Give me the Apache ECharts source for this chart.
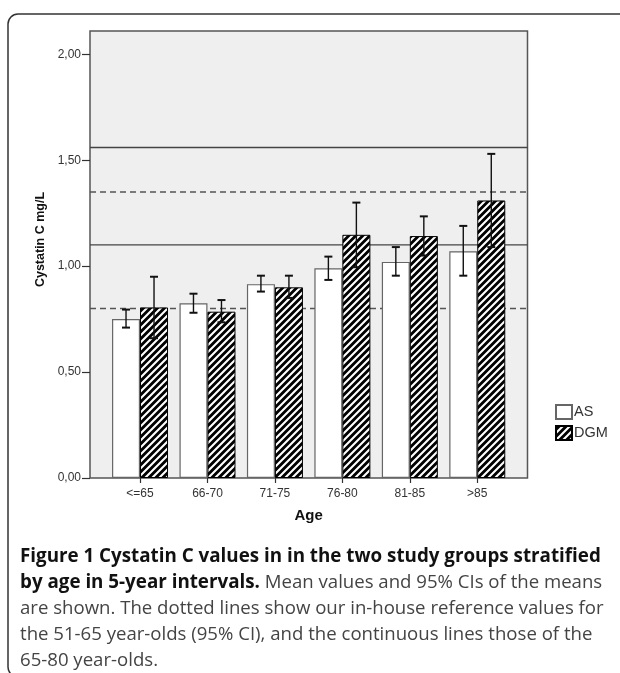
<!DOCTYPE html>
<html>
<head>
<meta charset="utf-8">
<script src="https://cdn.jsdelivr.net/npm/echarts@6/dist/echarts.min.js"></script>
<style>
html,body{margin:0;padding:0;background:#fff;}
#chart{width:620px;height:673px;}
</style>
</head>
<body>
<div id="chart"></div>
<script>
// ---- data ----
const categories = ['<=65', '66-70', '71-75', '76-80', '81-85', '>85'];
const asMean  = [0.75, 0.825, 0.915, 0.99, 1.02, 1.07];
const asLow   = [0.71, 0.78, 0.88, 0.935, 0.955, 0.955];
const asHigh  = [0.795, 0.87, 0.955, 1.045, 1.09, 1.19];
const dgmMean = [0.805, 0.785, 0.90, 1.148, 1.142, 1.31];
const dgmLow  = [0.66, 0.735, 0.85, 0.995, 1.05, 1.09];
const dgmHigh = [0.95, 0.84, 0.955, 1.30, 1.235, 1.53];
const refSolid  = [1.56, 1.10];   // 65-80 year-olds
const refDashed = [1.35, 0.80];   // 51-65 year-olds
const yTicks = [0, 0.5, 1, 1.5, 2];
const yMax = 2.11;
const captionLines = [
  [{b: 'Figure 1 Cystatin C values in in the two study groups stratified'}],
  [{b: 'by age in 5-year intervals.'}, {r: ' Mean values and 95% CIs of the means'}],
  [{r: 'are shown. The dotted lines show our in-house reference values for'}],
  [{r: 'the 51-65 year-olds (95% CI), and the continuous lines those of the'}],
  [{r: '65-80 year-olds.'}]
];

// ---- hatch pattern ----
function makeHatch() {
  const s = 7;
  const c = document.createElement('canvas');
  c.width = s; c.height = s;
  const g = c.getContext('2d');
  g.fillStyle = '#000';
  g.fillRect(0, 0, s, s);
  g.strokeStyle = '#fff';
  g.lineWidth = 2.1;
  g.beginPath();
  g.moveTo(0, s); g.lineTo(s, 0);
  g.moveTo(-1, 1); g.lineTo(1, -1);
  g.moveTo(s - 1, s + 1); g.lineTo(s + 1, s - 1);
  g.stroke();
  return c;
}
const hatch = {image: makeHatch(), repeat: 'repeat'};

const chart = echarts.init(document.getElementById('chart'), null, {renderer: 'canvas'});

function errSeries(name, lows, highs, offset) {
  return {
    type: 'custom',
    name: name,
    xAxisIndex: 0, yAxisIndex: 0,
    z: 5,
    silent: true,
    data: categories.map((c, i) => [i, lows[i], highs[i]]),
    encode: {x: 0, y: [1, 2]},
    renderItem: function (params, api) {
      const i = api.value(0);
      const pLo = api.coord([i, api.value(1)]);
      const pHi = api.coord([i, api.value(2)]);
      const x = pLo[0] + offset;
      const cap = 4;
      return {
        type: 'group',
        children: [
          {type: 'line', shape: {x1: x, y1: pHi[1], x2: x, y2: pLo[1]}, style: {stroke: '#111', lineWidth: 1.4}},
          {type: 'line', shape: {x1: x - cap, y1: pHi[1], x2: x + cap, y2: pHi[1]}, style: {stroke: '#111', lineWidth: 2}},
          {type: 'line', shape: {x1: x - cap, y1: pLo[1], x2: x + cap, y2: pLo[1]}, style: {stroke: '#111', lineWidth: 2}}
        ]
      };
    }
  };
}

function refSeries(vals, dashed) {
  return vals.map(v => ({
    type: 'line',
    xAxisIndex: 1, yAxisIndex: 1,
    z: 1,
    silent: true,
    symbol: 'none',
    data: [[0, v], [1, v]],
    lineStyle: {color: dashed ? '#555' : '#444', width: 1.3, type: dashed ? [6, 4] : 'solid'}
  }));
}

const fmt = v => v.toFixed(2).replace('.', ',');

const captionGraphics = captionLines.map((parts, li) => {
  const text = parts.map(p => p.b !== undefined ? '{b|' + p.b + '}' : '{r|' + p.r + '}').join('');
  return {
    type: 'text',
    x: 20,
    y: 557 + li * 26,
    silent: true,
    style: {
      text: text,
      verticalAlign: 'middle',
      rich: {
        b: {fontFamily: 'Open Sans', fontWeight: 'bold', fontSize: 18.8, fill: '#111'},
        r: {fontFamily: 'Open Sans', fontWeight: 'normal', fontSize: 18.6, fill: '#444'}
      }
    }
  };
});

const option = {
  backgroundColor: '#fff',
  animation: false,
  textStyle: {fontFamily: 'Liberation Sans'},
  grid: [
    {left: 106.3, right: 109, top: 31, bottom: 195, show: false},
    {left: 90, right: 92.5, top: 31, bottom: 195, show: true, backgroundColor: '#efefef', borderColor: '#555', borderWidth: 1.5, z: 0}
  ],
  xAxis: [
    {
      type: 'category', gridIndex: 0, data: categories,
      axisLine: {show: false},
      axisTick: {show: true, alignWithLabel: true, length: 5, lineStyle: {color: '#333', width: 1.2}},
      axisLabel: {color: '#333', fontSize: 12, margin: 10},
      name: 'Age', nameLocation: 'middle', nameGap: 30,
      nameTextStyle: {fontWeight: 'bold', fontSize: 15, color: '#111'}
    },
    {type: 'value', gridIndex: 1, min: 0, max: 1, show: false}
  ],
  yAxis: [
    {type: 'value', gridIndex: 0, min: 0, max: yMax, show: false, splitLine: {show: false}},
    {
      type: 'value', gridIndex: 1, min: 0, max: yMax,
      splitLine: {show: false},
      axisLine: {show: false},
      axisTick: {show: true, length: 8, customValues: yTicks, lineStyle: {color: '#333', width: 1.2}},
      axisLabel: {customValues: yTicks, formatter: fmt, color: '#333', fontSize: 12, margin: 9},
      name: 'Cystatin C mg/L', nameLocation: 'middle', nameGap: 43,
      nameTextStyle: {fontWeight: 'bold', fontSize: 12.5, color: '#111', padding: [0, 0, 0, 30]}
    }
  ],
  legend: {
    data: ['AS', 'DGM'],
    orient: 'vertical',
    left: 555, top: 404,
    itemWidth: 16, itemHeight: 14, itemGap: 5,
    icon: 'rect',
    padding: 0,
    textStyle: {fontSize: 14.5, color: '#333', fontFamily: 'Liberation Sans', padding: [0, 0, 0, -3]}
  },
  series: [
    ...refSeries(refSolid, false),
    ...refSeries(refDashed, true),
    {
      name: 'AS', type: 'bar', xAxisIndex: 0, yAxisIndex: 0,
      data: asMean, barWidth: 28, barGap: '0%',
      itemStyle: {color: '#fff', borderColor: '#666', borderWidth: 1.2}
    },
    {
      name: 'DGM', type: 'bar', xAxisIndex: 0, yAxisIndex: 0,
      data: dgmMean, barWidth: 28, barGap: '0%',
      itemStyle: {color: hatch, borderColor: '#000', borderWidth: 1}
    },
    errSeries('AS CI', asLow, asHigh, -14),
    errSeries('DGM CI', dgmLow, dgmHigh, 14)
  ],
  graphic: [
    {type: 'rect', shape: {x: 8, y: 14, width: 720, height: 663, r: 10}, style: {fill: 'none', stroke: '#333', lineWidth: 1.5}, z: 100, silent: true},
    ...captionGraphics
  ]
};
chart.setOption(option);
</script>
</body>
</html>
